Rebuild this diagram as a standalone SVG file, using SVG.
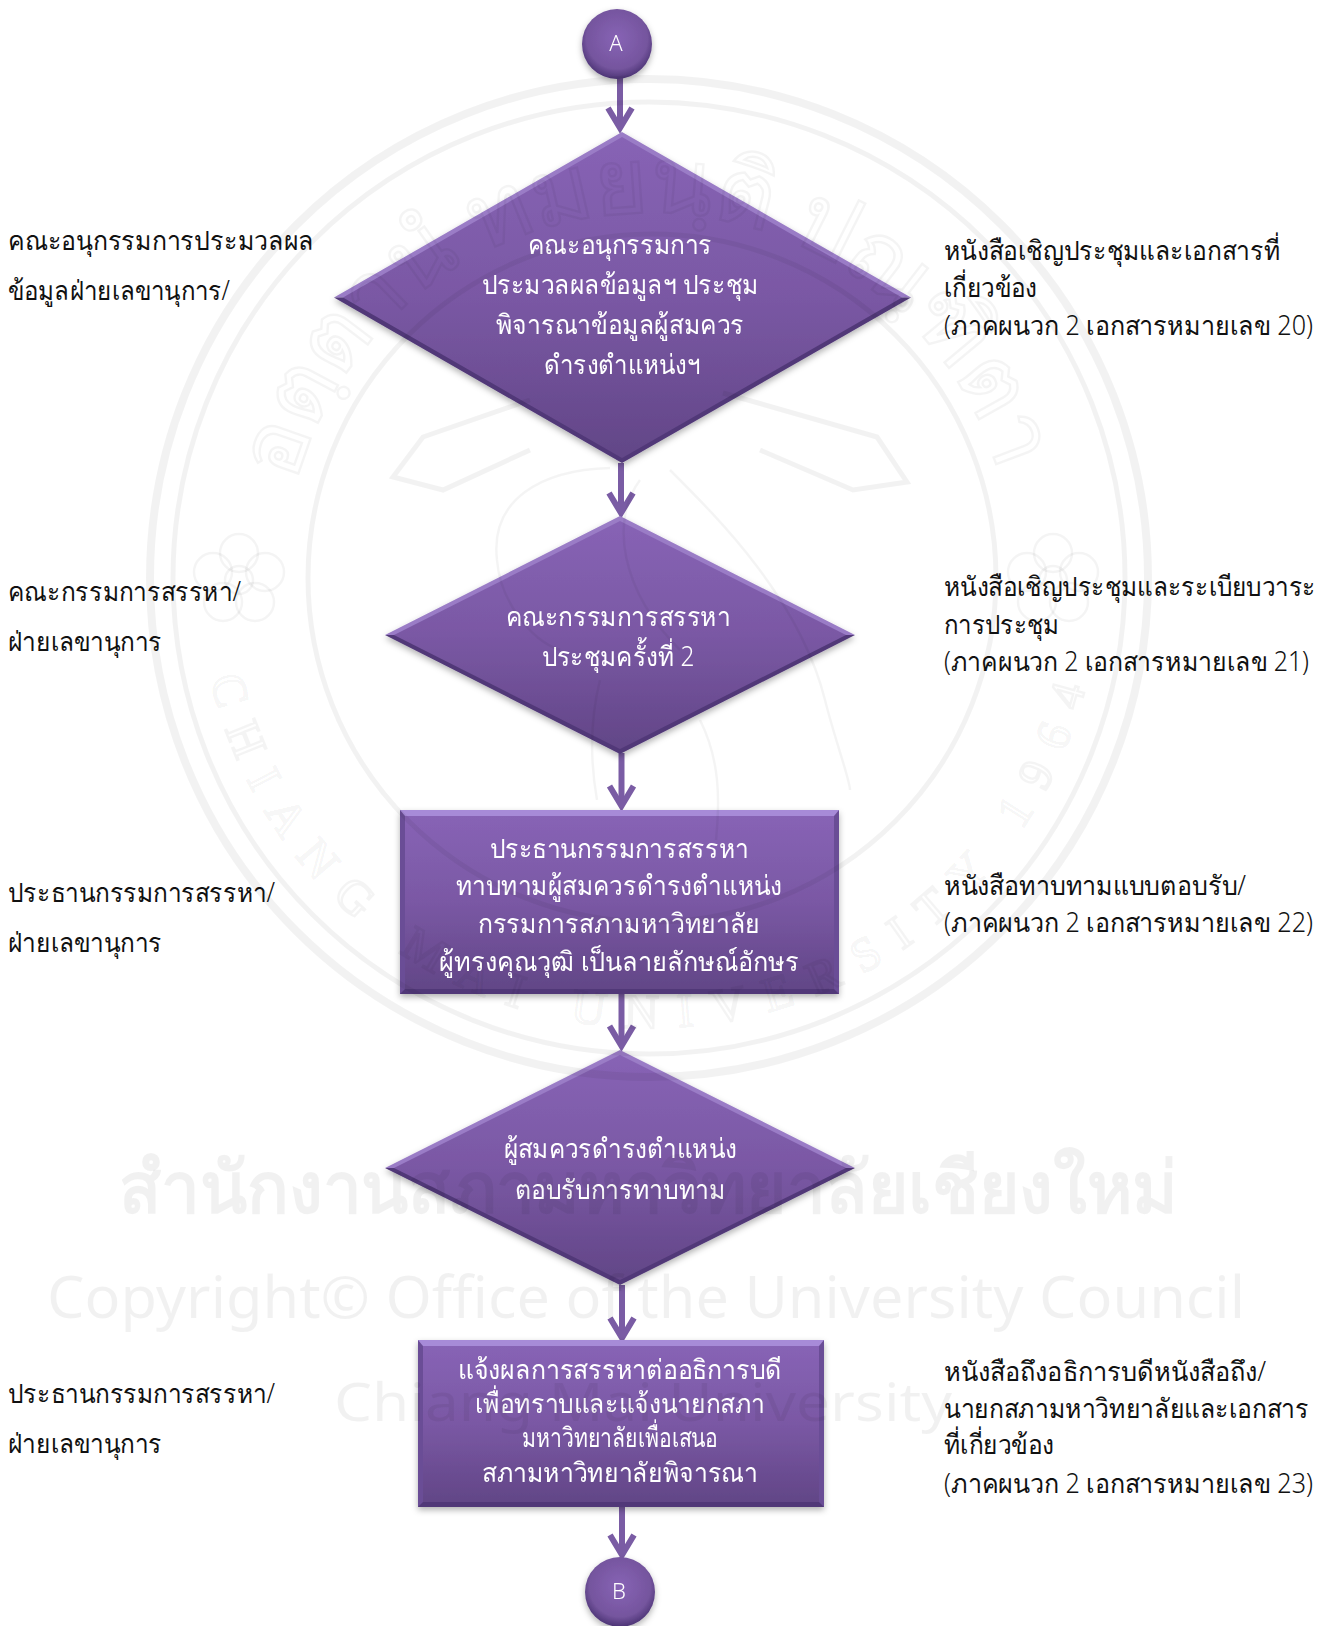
<svg xmlns="http://www.w3.org/2000/svg" width="1334" height="1626" viewBox="0 0 1334 1626">
<style>
text{font-family:"Noto Sans","Liberation Sans",sans-serif;font-size:27px;font-weight:300}
.w{fill:#fff;text-anchor:middle}
.b{fill:#111}
.c{font-size:22px}
.con{stroke:#7a5ca4;stroke-width:6;fill:none;marker-end:url(#arr)}
.wm{fill:#000;fill-opacity:.055}
.wo{fill:none;stroke:#000;stroke-opacity:.05;stroke-width:5}
.wl{fill:none;stroke:#000;stroke-opacity:.045;stroke-width:2.5}
</style>
<defs>
<marker id="arr" markerUnits="userSpaceOnUse" markerWidth="36" markerHeight="36" refX="25" refY="18" orient="auto" overflow="visible"><path d="M5,6 L25,18 L5,30" fill="none" stroke="#7a5ca4" stroke-width="6" stroke-linejoin="miter"/></marker>
<linearGradient id="body" x1="0" y1="0" x2="0" y2="1"><stop offset="0" stop-color="#8763b5"/><stop offset=".5" stop-color="#7a58a4"/><stop offset="1" stop-color="#624687"/></linearGradient>
<radialGradient id="ball" cx=".5" cy=".42" r=".58"><stop offset="0" stop-color="#8763b5"/><stop offset=".75" stop-color="#75559e"/><stop offset="1" stop-color="#4c3475"/></radialGradient>
<filter id="sh" x="-10%" y="-10%" width="120%" height="125%"><feDropShadow dx="0" dy="3" stdDeviation="3" flood-color="#000" flood-opacity=".3"/></filter>
<path id="arcTop" d="M296.4,483.5 A365,365 0 0 1 1001.6,483.5"/>
<path id="arcBot" d="M210.5,679 A450,450 0 0 0 1087.5,679"/>
<g id="flower" class="wl"><circle cx="0" cy="-27" r="19"/><circle cx="26" cy="-8" r="19"/><circle cx="16" cy="22" r="19"/><circle cx="-16" cy="22" r="19"/><circle cx="-26" cy="-8" r="19"/><circle r="14"/></g>
</defs>
<rect width="1334" height="1626" fill="#fff"/>
<g id="connectors">
<path class="con" d="M620,78V128"/>
<path class="con" d="M621,463V513"/>
<path class="con" d="M621.5,753V806"/>
<path class="con" d="M621.5,994V1046"/>
<path class="con" d="M622,1285V1338"/>
<path class="con" d="M622,1507V1555"/>
</g>
<g id="nodeA" filter="url(#sh)"><circle cx="617" cy="44" r="35" fill="url(#ball)"/><text class="w c" x="616" y="51">A</text></g>
<g id="node1" filter="url(#sh)">
<polygon points="334,297.5 622,132 911,297.5" fill="#9a7cc6"/><polygon points="334,297.5 622,463 911,297.5" fill="#513878"/>
<polygon points="343,297.5 622,137 902,297.5 622,458" fill="url(#body)"/>
<text class="w" x="620" y="254" textLength="184" lengthAdjust="spacingAndGlyphs">คณะอนุกรรมการ</text>
<text class="w" x="620" y="294" textLength="277" lengthAdjust="spacingAndGlyphs">ประมวลผลข้อมูลฯ ประชุม</text>
<text class="w" x="620" y="334" textLength="248" lengthAdjust="spacingAndGlyphs">พิจารณาข้อมูลผู้สมควร</text>
<text class="w" x="622" y="374" textLength="156" lengthAdjust="spacingAndGlyphs">ดำรงตำแหน่งฯ</text>
</g>
<g id="node2" filter="url(#sh)">
<polygon points="385,635 620,516 855,635" fill="#9a7cc6"/><polygon points="385,635 620,754 855,635" fill="#513878"/>
<polygon points="394,635 620,521 846,635 620,749" fill="url(#body)"/>
<text class="w" x="618" y="626" textLength="225" lengthAdjust="spacingAndGlyphs">คณะกรรมการสรรหา</text>
<text class="w" x="618" y="666" textLength="153" lengthAdjust="spacingAndGlyphs">ประชุมครั้งที่ 2</text>
</g>
<g id="node3" filter="url(#sh)">
<rect x="400" y="810" width="439" height="184" fill="#6b4d96"/>
<polygon points="400,810 839,810 834,816 405,816" fill="#a78bd8"/>
<polygon points="400,994 839,994 834,989 405,989" fill="#513878"/>
<rect x="405" y="816" width="429" height="173" fill="url(#body)"/>
<text class="w" x="619" y="858" textLength="259" lengthAdjust="spacingAndGlyphs">ประธานกรรมการสรรหา</text>
<text class="w" x="619" y="895" textLength="326" lengthAdjust="spacingAndGlyphs">ทาบทามผู้สมควรดำรงตำแหน่ง</text>
<text class="w" x="619" y="933" textLength="282" lengthAdjust="spacingAndGlyphs">กรรมการสภามหาวิทยาลัย</text>
<text class="w" x="619" y="971" textLength="360" lengthAdjust="spacingAndGlyphs">ผู้ทรงคุณวุฒิ เป็นลายลักษณ์อักษร</text>
</g>
<g id="node4" filter="url(#sh)">
<polygon points="385,1168 620,1050 855,1168" fill="#9a7cc6"/><polygon points="385,1168 620,1285 855,1168" fill="#513878"/>
<polygon points="394,1168 620,1055 846,1168 620,1280" fill="url(#body)"/>
<text class="w" x="620" y="1158" textLength="233" lengthAdjust="spacingAndGlyphs">ผู้สมควรดำรงตำแหน่ง</text>
<text class="w" x="620" y="1199" textLength="211" lengthAdjust="spacingAndGlyphs">ตอบรับการทาบทาม</text>
</g>
<g id="node5" filter="url(#sh)">
<rect x="418" y="1340" width="406" height="167" fill="#6b4d96"/>
<polygon points="418,1340 824,1340 819,1346 423,1346" fill="#a78bd8"/>
<polygon points="418,1507 824,1507 819,1502 423,1502" fill="#513878"/>
<rect x="423" y="1346" width="396" height="156" fill="url(#body)"/>
<text class="w" x="620" y="1379" textLength="324" lengthAdjust="spacingAndGlyphs">แจ้งผลการสรรหาต่ออธิการบดี</text>
<text class="w" x="620" y="1413" textLength="290" lengthAdjust="spacingAndGlyphs">เพื่อทราบและแจ้งนายกสภา</text>
<text class="w" x="620" y="1447" textLength="196" lengthAdjust="spacingAndGlyphs">มหาวิทยาลัยเพื่อเสนอ</text>
<text class="w" x="620" y="1482" textLength="276" lengthAdjust="spacingAndGlyphs">สภามหาวิทยาลัยพิจารณา</text>
</g>
<g id="nodeB" filter="url(#sh)"><circle cx="620" cy="1592" r="35" fill="url(#ball)"/><text class="w c" x="619" y="1599">B</text></g>
<g id="labelsLeft">
<text class="b" x="8" y="250" textLength="306" lengthAdjust="spacingAndGlyphs">คณะอนุกรรมการประมวลผล</text>
<text class="b" x="8" y="300" textLength="222" lengthAdjust="spacingAndGlyphs">ข้อมูลฝ่ายเลขานุการ/</text>
<text class="b" x="8" y="601" textLength="233" lengthAdjust="spacingAndGlyphs">คณะกรรมการสรรหา/</text>
<text class="b" x="8" y="651" textLength="154" lengthAdjust="spacingAndGlyphs">ฝ่ายเลขานุการ</text>
<text class="b" x="8" y="902" textLength="267" lengthAdjust="spacingAndGlyphs">ประธานกรรมการสรรหา/</text>
<text class="b" x="8" y="952" textLength="154" lengthAdjust="spacingAndGlyphs">ฝ่ายเลขานุการ</text>
<text class="b" x="8" y="1403" textLength="267" lengthAdjust="spacingAndGlyphs">ประธานกรรมการสรรหา/</text>
<text class="b" x="8" y="1453" textLength="154" lengthAdjust="spacingAndGlyphs">ฝ่ายเลขานุการ</text>
</g>
<g id="labelsRight">
<text class="b" x="944" y="260" textLength="336" lengthAdjust="spacingAndGlyphs">หนังสือเชิญประชุมและเอกสารที่</text>
<text class="b" x="944" y="297" textLength="93" lengthAdjust="spacingAndGlyphs">เกี่ยวข้อง</text>
<text class="b" x="944" y="335" textLength="369" lengthAdjust="spacingAndGlyphs">(ภาคผนวก 2 เอกสารหมายเลข 20)</text>
<text class="b" x="944" y="596" textLength="372" lengthAdjust="spacingAndGlyphs">หนังสือเชิญประชุมและระเบียบวาระ</text>
<text class="b" x="944" y="634" textLength="115" lengthAdjust="spacingAndGlyphs">การประชุม</text>
<text class="b" x="944" y="671" textLength="365" lengthAdjust="spacingAndGlyphs">(ภาคผนวก 2 เอกสารหมายเลข 21)</text>
<text class="b" x="944" y="895" textLength="302" lengthAdjust="spacingAndGlyphs">หนังสือทาบทามแบบตอบรับ/</text>
<text class="b" x="944" y="932" textLength="369" lengthAdjust="spacingAndGlyphs">(ภาคผนวก 2 เอกสารหมายเลข 22)</text>
<text class="b" x="944" y="1381" textLength="322" lengthAdjust="spacingAndGlyphs">หนังสือถึงอธิการบดีหนังสือถึง/</text>
<text class="b" x="944" y="1418" textLength="365" lengthAdjust="spacingAndGlyphs">นายกสภามหาวิทยาลัยและเอกสาร</text>
<text class="b" x="944" y="1454" textLength="110" lengthAdjust="spacingAndGlyphs">ที่เกี่ยวข้อง</text>
<text class="b" x="944" y="1493" textLength="369" lengthAdjust="spacingAndGlyphs">(ภาคผนวก 2 เอกสารหมายเลข 23)</text>
</g>
<g id="watermark">
<circle class="wo" cx="649" cy="578" r="499" style="stroke-width:8"/>
<circle class="wo" cx="649" cy="578" r="476"/>
<circle class="wo" cx="652" cy="578" r="344"/>
<text style="font-size:92px;font-weight:400" class="wl"><textPath href="#arcTop" textLength="945" lengthAdjust="spacing">อตฺตานํ ทมยนฺติ ปณฺฑิตา</textPath></text>
<text style="font-family:'Liberation Serif',serif;font-size:48px;font-weight:400" class="wl"><textPath href="#arcBot" textLength="1200" lengthAdjust="spacing">CHIANG MAI UNIVERSITY 1964</textPath></text>
<path class="wo" d="M530,400 L423,437 L393,477 L443,490 L530,450"/>
<path class="wo" d="M723,393 L877,437 L907,482 L853,490 L760,450"/>
<use href="#flower" x="239" y="580"/>
<use href="#flower" x="1053" y="580"/>
<path class="wl" d="M497,560 C490,500 540,470 610,468 M497,560 C500,600 530,640 560,650 M670,470 C720,520 800,600 825,700 C835,740 850,780 850,790 M597,800 C590,760 590,720 600,680 M640,480 C610,520 620,590 680,650 M700,720 C720,760 720,800 716,840"/>
<text class="wm" x="119" y="1213" style="font-size:72px;font-weight:600" textLength="1058" lengthAdjust="spacingAndGlyphs">สำนักงานสภามหาวิทยาลัยเชียงใหม่</text>
<text class="wm" x="47" y="1318" style="font-size:58px;font-weight:400" textLength="1198" lengthAdjust="spacingAndGlyphs">Copyright© Office of the University Council</text>
<text class="wm" x="334" y="1421" style="font-size:52px;font-weight:400" textLength="618" lengthAdjust="spacingAndGlyphs">Chiang Mai University</text>
</g>
</svg>
